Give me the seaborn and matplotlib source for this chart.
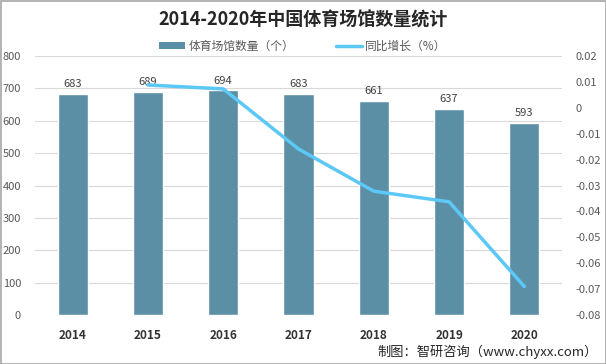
import matplotlib
matplotlib.use("Agg")
import matplotlib.pyplot as plt
import seaborn as sns
import pandas as pd
from matplotlib.patches import Patch, Rectangle
from matplotlib.lines import Line2D

years = ["2014", "2015", "2016", "2017", "2018", "2019", "2020"]
counts = [683, 689, 694, 683, 661, 637, 593]
growth_years = ["2015", "2016", "2017", "2018", "2019", "2020"]
growth = [0.0088, 0.0073, -0.0159, -0.0322, -0.0363, -0.0690]
left_ticks = [0, 100, 200, 300, 400, 500, 600, 700, 800]
right_ticks = [-0.08, -0.07, -0.06, -0.05, -0.04, -0.03, -0.02, -0.01, 0, 0.01, 0.02]
right_labels = ["-0.08", "-0.07", "-0.06", "-0.05", "-0.04", "-0.03", "-0.02", "-0.01", "0", "0.01", "0.02"]

sns.set_theme(style="white")
plt.rcParams['font.family'] = ['Noto Sans CJK SC', 'DejaVu Sans']

BAR = "#5b8fa6"
LINE = "#5bc8f5"
TXT = "#595959"

fig = plt.figure(figsize=(6.06, 3.64), dpi=100)
ax = fig.add_axes([35/606, 1-315/364, (562-35)/606, (315-56)/364])

df = pd.DataFrame({"year": years, "count": counts})
sns.barplot(data=df, x="year", y="count", color=BAR, width=0.4, saturation=1, ax=ax, zorder=2)
ax.set_xlim(-0.5, 6.5)
ax.set_ylim(0, 800)
ax.set_yticks(left_ticks)
ax.set_yticklabels([str(t) for t in left_ticks], fontsize=8, color=TXT)
ax.yaxis.grid(True, color="#d9d9d9", linewidth=0.8, zorder=0)
ax.set_axisbelow(True)
for s in ax.spines.values():
    s.set_visible(False)
ax.tick_params(axis="y", length=0, pad=10)
ax.tick_params(axis="x", length=0, pad=10)
ax.set_xticks(range(len(years)))
ax.set_xticklabels(years, fontsize=8.5, fontweight="bold", color="#333333")
ax.set_xlabel("")
ax.set_ylabel("")
for i, v in enumerate(counts):
    ax.text(i, v + 14, str(v), ha="center", va="bottom", fontsize=8, color="#404040")

ax2 = ax.twinx()
gx = [years.index(y) for y in growth_years]
gdf = pd.DataFrame({"x": gx, "g": growth})
sns.lineplot(data=gdf, x="x", y="g", color=LINE, linewidth=2.5, ax=ax2)
ax2.set_ylim(-0.08, 0.02)
ax2.set_yticks(right_ticks)
ax2.set_yticklabels(right_labels, fontsize=8, color=TXT)
ax2.tick_params(axis="y", length=0, pad=10)
ax2.set_ylabel("")
ax2.set_xlabel("")
for s in ax2.spines.values():
    s.set_visible(False)
ax2.set_xlim(-0.5, 6.5)

fig.text(0.5, 1-20/364, "2014-2020年中国体育场馆数量统计", ha="center", va="center",
         fontsize=13, fontweight="bold", color="#262626")

handles = [Patch(facecolor=BAR, edgecolor="none"), Line2D([0], [0], color=LINE, linewidth=2.5)]
fig.legend(handles, ["体育场馆数量（个）", "同比增长（%）"], loc="center", bbox_to_anchor=(0.5, 1-46/364),
           ncol=2, frameon=False, fontsize=8.5, labelcolor=TXT, handlelength=2.2, handleheight=0.5,
           columnspacing=3.5, handletextpad=0.3)

fig.text(598/606, 1-352/364, "制图：智研咨询（www.chyxx.com）", ha="right", va="center",
         fontsize=9.5, color="#262626")

fig.patches.append(Rectangle((0.5/606, 0.5/364), 605/606, 363/364, transform=fig.transFigure,
                             fill=False, edgecolor="#a6a6a6", linewidth=1.2))

fig.savefig("out.png", dpi=100)
